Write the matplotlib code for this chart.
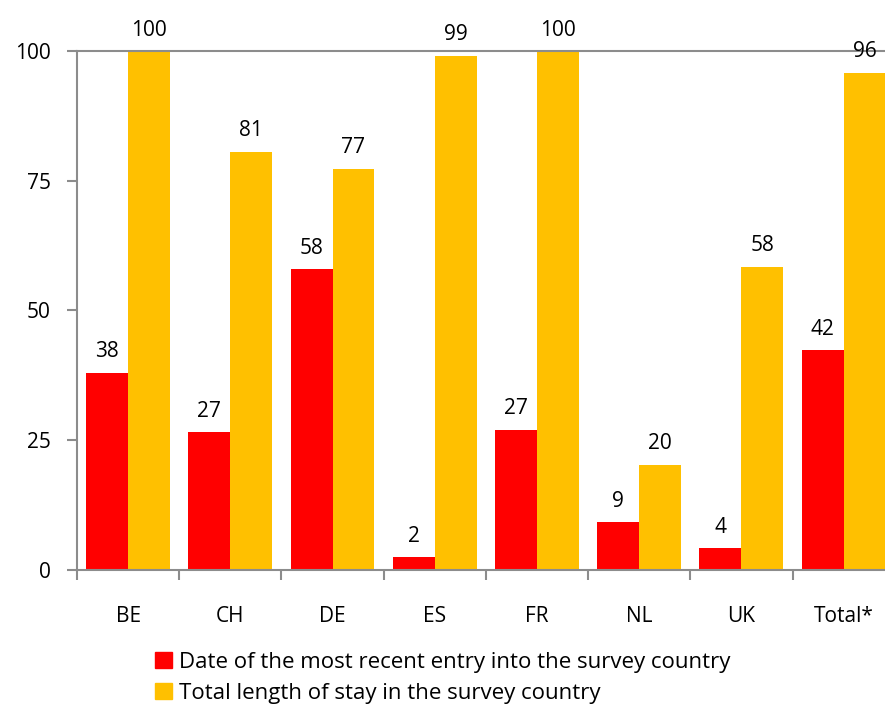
import numpy as np
import matplotlib.pyplot as plt
from matplotlib.patches import Patch

countries = ['BE', 'CH', 'DE', 'ES', 'FR', 'NL', 'UK', 'Total*']
recent_entry = [38, 26.5, 58, 2.4, 27, 9.2, 4.2, 42.4]
total_stay = [100, 80.6, 77.3, 99.1, 100, 20.3, 58.4, 95.8]
recent_labels = ['38', '27', '58', '2', '27', '9', '4', '42']
stay_labels = ['100', '81', '77', '99', '100', '20', '58', '96']

series_names = ['Date of the most recent entry into the survey country',
                'Total length of stay in the survey country']
colors = ['#FF0000', '#FFC000']

plt.rcParams['font.family'] = ['Open Sans', 'DejaVu Sans']

fig = plt.figure(figsize=(8.85, 7.08), dpi=100)
ax = fig.add_axes([0.087, 0.195, 0.924, 0.733])

x = np.arange(len(countries))
w = 0.41
ax.bar(x - w / 2, recent_entry, w, color=colors[0])
ax.bar(x + w / 2, total_stay, w, color=colors[1])

# value labels above each bar
for xi, v, lab in zip(x - w / 2, recent_entry, recent_labels):
    ax.text(xi, v + 2.0, lab, ha='center', va='bottom', fontsize=15)
for xi, v, lab in zip(x + w / 2, total_stay, stay_labels):
    ax.text(xi, v + 2.0, lab, ha='center', va='bottom', fontsize=15)

ax.set_xlim(-0.5, len(countries) - 0.5)
ax.set_ylim(0, 100)
ax.set_yticks([0, 25, 50, 75, 100])
ax.set_xticks(x)
ax.set_xticklabels(countries)
ax.set_xticks(np.arange(len(countries)) - 0.5, minor=True)
ax.tick_params(axis='x', which='major', length=0, pad=26, labelsize=15)
ax.tick_params(axis='x', which='minor', length=7, color='#8c8c8c', width=1.5)
ax.tick_params(axis='y', length=7, color='#8c8c8c', width=1.5, pad=12, labelsize=15)

for side in ['left', 'bottom', 'top']:
    ax.spines[side].set_color('#8c8c8c')
    ax.spines[side].set_linewidth(1.5)
ax.spines['right'].set_visible(False)

handles = [Patch(color=c) for c in colors]
fig.legend(handles, series_names, loc='upper left', bbox_to_anchor=(0.165, 0.092),
           frameon=False, fontsize=16, handlelength=0.75, handleheight=0.75,
           handletextpad=0.35, labelspacing=0.45, borderaxespad=0)

fig.savefig('out.png', dpi=100)
